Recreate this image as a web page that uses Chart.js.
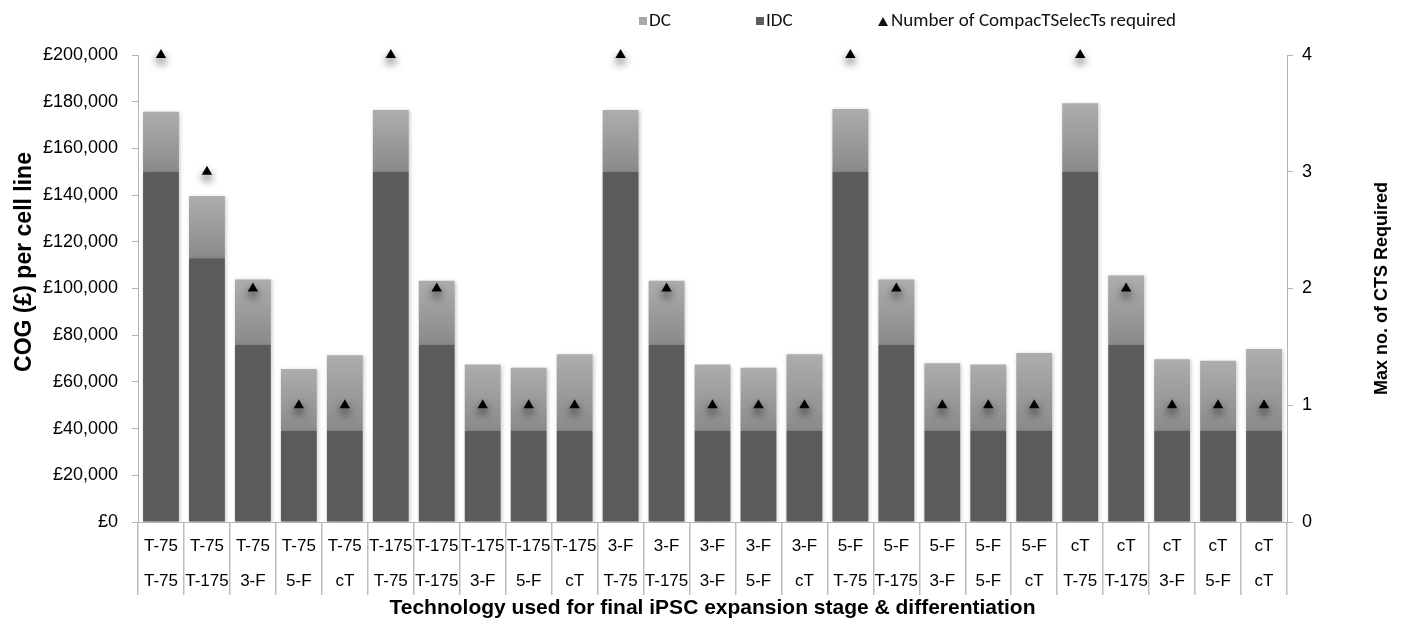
<!DOCTYPE html>
<html>
<head>
<meta charset="utf-8">
<title>COG per cell line</title>
<script src="https://cdn.jsdelivr.net/npm/chart.js@4.4.1/dist/chart.umd.min.js"></script>
<style>
  html,body{margin:0;padding:0;background:#fff;}
  #wrap{position:relative;width:1402px;height:626px;}
  #legend{position:absolute;left:0;top:9px;height:22px;font-size:19px;color:#111;
          font-family:Carlito,"Liberation Sans Narrow","Arial Narrow",sans-serif;}
  .li{position:absolute;top:0;line-height:22px;white-space:nowrap;}
  .sw{display:inline-block;width:8px;height:8px;margin-right:2px;vertical-align:1px;}
  .tri{display:inline-block;width:0;height:0;border-left:5px solid transparent;border-right:5px solid transparent;
       border-bottom:9px solid #111;margin-right:3px;vertical-align:0px;}
</style>
</head>
<body>
<div id="wrap">
  <canvas id="c" width="1402" height="626"></canvas>
  <div id="legend">
    <span class="li" style="left:639px"><span class="sw" style="background:#a9a9a9"></span>DC</span>
    <span class="li" style="left:756px"><span class="sw" style="background:#5e5e5e"></span>IDC</span>
    <span class="li" style="left:878px"><span class="tri"></span>Number of CompacTSelecTs required</span>
  </div>
</div>
<script>
// final iPSC expansion stage (row 1) and differentiation technology (row 2)
const expansionTech = ['T-75','T-75','T-75','T-75','T-75',
                       'T-175','T-175','T-175','T-175','T-175',
                       '3-F','3-F','3-F','3-F','3-F',
                       '5-F','5-F','5-F','5-F','5-F',
                       'cT','cT','cT','cT','cT'];
const diffTech      = ['T-75','T-175','3-F','5-F','cT',
                       'T-75','T-175','3-F','5-F','cT',
                       'T-75','T-175','3-F','5-F','cT',
                       'T-75','T-175','3-F','5-F','cT',
                       'T-75','T-175','3-F','5-F','cT'];

// cost of goods per cell line (GBP)
const idcCost = [150000,113000,76000,39000,39000,
                 150000,76000,39000,39000,39000,
                 150000,76000,39000,39000,39000,
                 150000,76000,39000,39000,39000,
                 150000,76000,39000,39000,39000];
const dcCost  = [25700,26600,27900,26500,32400,
                 26400,27300,28400,27100,32800,
                 26400,27300,28400,27100,32800,
                 26900,27900,29000,28400,33400,
                 29300,29600,30700,30100,35100];
// max number of CompacT SelecTs required
const ctsRequired = [4,3,2,1,1, 4,2,1,1,1, 4,2,1,1,1, 4,2,1,1,1, 4,2,1,1,1];

const costTicks = {min:0, max:200000, step:20000};
const ctsTicks  = {min:0, max:4, step:1};

const yTitle  = 'COG (£) per cell line';
const y1Title = 'Max no. of CTS Required';
const xTitle  = 'Technology used for final iPSC expansion stage & differentiation';

const FONT = '"Liberation Sans", Arial, Helvetica, sans-serif';
const AXIS_GREY = '#b4b4b4';

// DC bars fade from light at the top to darker at the IDC boundary
function dcFill(c){
  const ch = c.chart, y = ch.scales.y;
  if(!y || c.type !== 'data') return '#9c9c9c';
  const i = c.dataIndex;
  const top = y.getPixelForValue(idcCost[i] + dcCost[i]);
  const bot = y.getPixelForValue(idcCost[i]);
  if(!isFinite(top) || !isFinite(bot) || top === bot) return '#9c9c9c';
  const g = ch.ctx.createLinearGradient(0, top, 0, bot);
  g.addColorStop(0, '#adadad');
  g.addColorStop(1, '#8a8a8a');
  return g;
}

// soft drop shadows, like the original spreadsheet export
const softShadow = {
  id:'softShadow',
  beforeDatasetDraw(chart, args){
    const ctx = chart.ctx; ctx.save();
    if(args.meta.type === 'line'){
      ctx.shadowColor = 'rgba(0,0,0,0.75)'; ctx.shadowBlur = 8; ctx.shadowOffsetY = 5;
    } else {
      ctx.shadowColor = 'rgba(0,0,0,0.22)'; ctx.shadowBlur = 4; ctx.shadowOffsetX = 1; ctx.shadowOffsetY = 1;
    }
  },
  afterDatasetDraw(chart){ chart.ctx.restore(); }
};

// both vertical titles read bottom-to-top
const sideTitles = {
  id:'sideTitles',
  afterDraw(chart){
    const ctx = chart.ctx, a = chart.chartArea;
    ctx.save();
    ctx.fillStyle = '#000'; ctx.textAlign = 'center'; ctx.textBaseline = 'middle';
    ctx.font = 'bold 23px ' + FONT;
    ctx.translate(a.left - 113, a.top + 207); ctx.rotate(-Math.PI/2); ctx.fillText(yTitle, 0, 0);
    ctx.restore();
    ctx.save();
    ctx.fillStyle = '#000'; ctx.textAlign = 'center'; ctx.textBaseline = 'middle';
    ctx.font = 'bold 18px ' + FONT;
    ctx.translate(a.right + 95, (a.top + a.bottom)/2); ctx.rotate(-Math.PI/2); ctx.fillText(y1Title, 0, 0);
    ctx.restore();
  }
};

const labels = expansionTech.map((s,i)=>[s, diffTech[i]]);

new Chart(document.getElementById('c'), {
  data:{
    labels,
    datasets:[
      {type:'bar', label:'IDC', data:idcCost, backgroundColor:'#5b5b5b', yAxisID:'y', stack:'cog', order:1,
       barPercentage:0.78, categoryPercentage:1},
      {type:'bar', label:'DC', data:dcCost, backgroundColor:dcFill, yAxisID:'y', stack:'cog', order:2,
       barPercentage:0.78, categoryPercentage:1},
      {type:'line', label:'Number of CompacTSelecTs required', data:ctsRequired, yAxisID:'y1', order:0,
       showLine:false, clip:false, pointStyle:'triangle', pointRadius:6, pointHoverRadius:6,
       pointBackgroundColor:'#000', pointBorderColor:'#000', pointBorderWidth:0}
    ]
  },
  options:{
    responsive:false, animation:false, devicePixelRatio:1,
    layout:{padding:{top:55, left:0, right:0, bottom:0}},
    plugins:{legend:{display:false}, tooltip:{enabled:false}},
    scales:{
      x:{
        stacked:true, offset:true,
        afterFit(s){ s.height = 104; },
        grid:{offset:true, drawOnChartArea:false, tickLength:73, color:'#bdbdbd', lineWidth:1.5},
        border:{display:true, color:AXIS_GREY},
        ticks:{autoSkip:false, maxRotation:0, minRotation:0, padding:-66.5, color:'#000',
               font:{family:FONT, size:17, lineHeight:2.06}},
        title:{display:true, text:xTitle, color:'#000', padding:{top:0, bottom:5},
               font:{family:FONT, size:21, weight:'bold', lineHeight:1.2}}
      },
      y:{
        stacked:true, position:'left',
        min:costTicks.min, max:costTicks.max,
        afterFit(s){ s.width = 138; },
        grid:{drawOnChartArea:false, tickLength:6, color:AXIS_GREY},
        border:{display:true, color:AXIS_GREY},
        ticks:{stepSize:costTicks.step, padding:14, color:'#000', font:{family:FONT, size:18},
               callback:v=>'£' + Number(v).toLocaleString('en-GB')}
      },
      y1:{
        position:'right',
        min:ctsTicks.min, max:ctsTicks.max,
        afterFit(s){ s.width = 115; },
        grid:{drawOnChartArea:false, tickLength:6, color:AXIS_GREY},
        border:{display:true, color:AXIS_GREY},
        ticks:{stepSize:ctsTicks.step, padding:9, color:'#000', font:{family:FONT, size:18}}
      }
    }
  },
  plugins:[softShadow, sideTitles]
});
</script>
</body>
</html>
